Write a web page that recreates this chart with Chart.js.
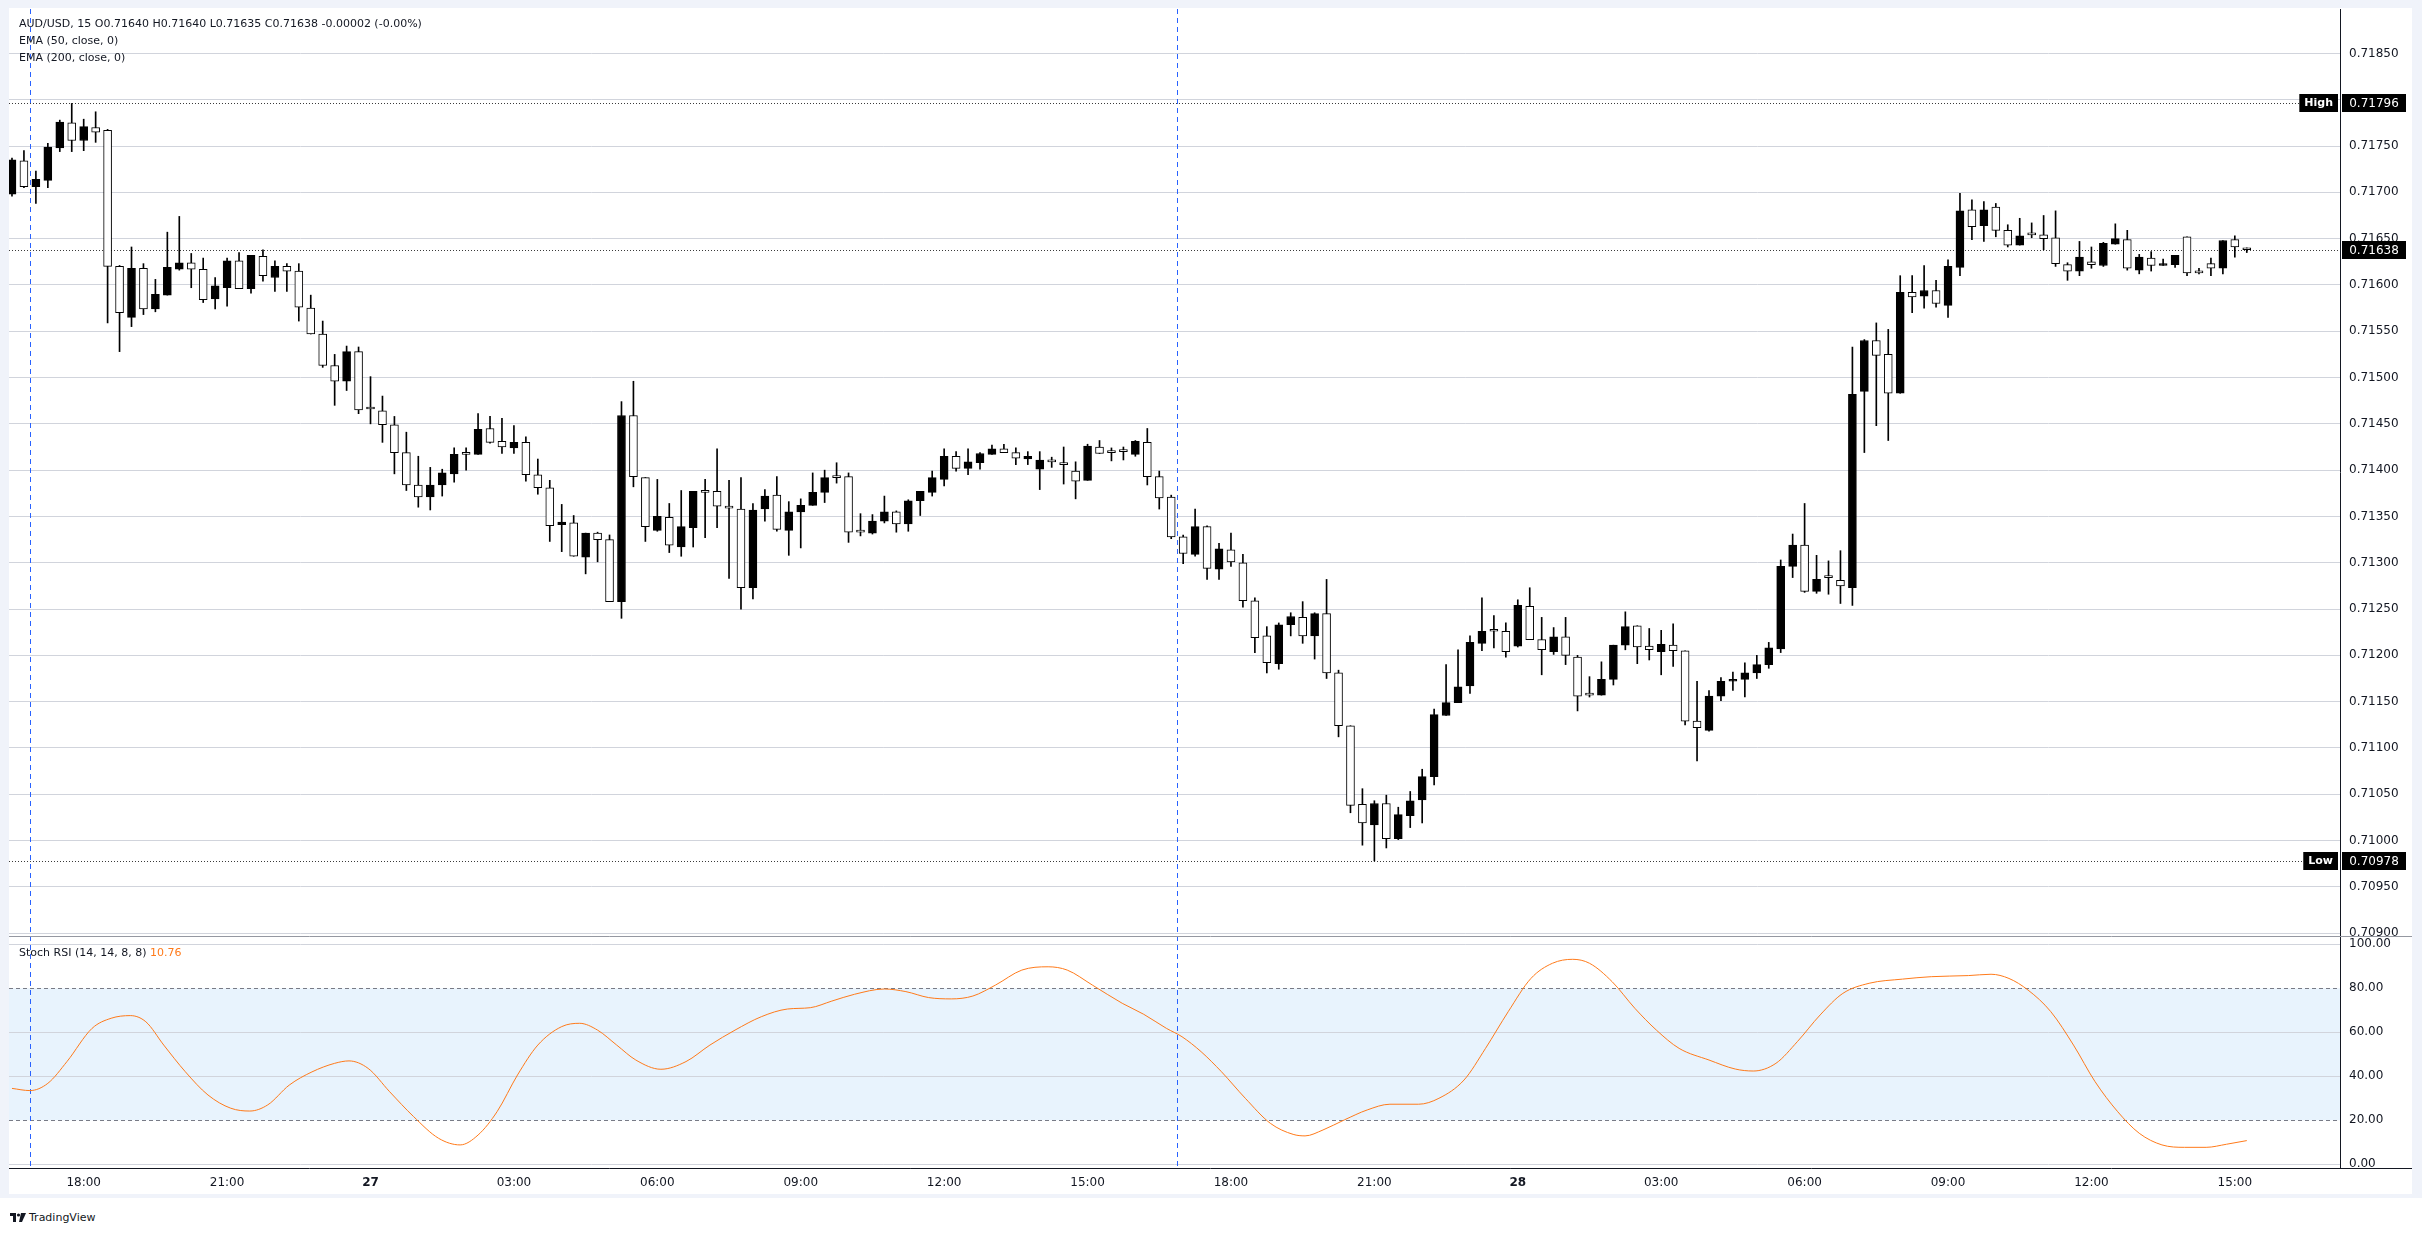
<!DOCTYPE html>
<html>
<head>
<meta charset="utf-8">
<title>AUD/USD, 15</title>
<script src="https://cdn.jsdelivr.net/npm/chart.js@4.4.1/dist/chart.umd.min.js"></script>
<style>
  html, body { margin: 0; padding: 0; background: #fff; }
  body { width: 2422px; height: 1235px; position: relative; overflow: hidden; font-family: "DejaVu Sans", sans-serif; color: #131722; }
  #frame { position: absolute; left: 0; top: 0; width: 2422px; height: 1198px; background: #f0f3fa; }
  #pane { position: absolute; left: 9px; top: 8px; width: 2403px; height: 1186px; background: #fff; }
  canvas { position: absolute; left: 0; }
  #main { top: 0; }
  #osc { top: 936px; }
  .legend { position: absolute; left: 19px; font-size: 11px; line-height: 14px; white-space: pre; color: #131722; }
  #logo { position: absolute; left: 10px; top: 1211px; font-size: 11px; line-height: 13px; color: #131722; display: flex; align-items: center; gap: 3px; }
</style>
</head>
<body>
<div id="frame"></div>
<div id="pane"></div>
<canvas id="main" width="2422" height="936" style="width:2422px;height:936px"></canvas>
<canvas id="osc" width="2422" height="264" style="width:2422px;height:264px"></canvas>
<div class="legend" style="top:17px">AUD/USD, 15 O0.71640 H0.71640 L0.71635 C0.71638 -0.00002 (-0.00%)</div>
<div class="legend" style="top:34px">EMA (50, close, 0)</div>
<div class="legend" style="top:51px">EMA (200, close, 0)</div>
<div class="legend" style="top:946px">Stoch RSI (14, 14, 8, 8) <span style="color:#ff7a1a">10.76</span></div>
<div id="logo"><svg width="16" height="11" viewBox="0 0 16 11"><rect x="0" y="1" width="6" height="3" fill="#131722"/><rect x="3" y="1" width="3" height="9" fill="#131722"/><circle cx="8.5" cy="3" r="1.6" fill="#131722"/><path d="M11 1 L16 1 L12 10 L9 10 Z" fill="#131722"/></svg><span>TradingView</span></div>

<script>
// 15-minute candles, 26th 16:30 -> 28th 15:15 (index 0..187)
const opens = [
  0.71698,0.71734,0.71706,0.71713,0.71748,0.71775,0.71756,0.71770,0.71767,0.71620,
  0.71565,0.71618,0.71574,0.71589,0.71617,0.71624,0.71617,0.71585,0.71597,0.71626,
  0.71596,0.71631,0.71608,0.71620,0.71615,0.71575,0.71547,0.71513,0.71496,0.71528,
  0.71466,0.71464,0.71449,0.71419,0.71384,0.71371,0.71384,0.71396,0.71417,0.71417,
  0.71445,0.71431,0.71424,0.71430,0.71395,0.71381,0.71341,0.71343,0.71306,0.71332,
  0.71325,0.71258,0.71459,0.71392,0.71335,0.71349,0.71317,0.71338,0.71378,0.71377,
  0.71361,0.71358,0.71273,0.71358,0.71373,0.71335,0.71355,0.71362,0.71376,0.71392,
  0.71393,0.71333,0.71332,0.71345,0.71355,0.71342,0.71367,0.71376,0.71390,0.71415,
  0.71402,0.71408,0.71417,0.71423,0.71419,0.71412,0.71401,0.71409,0.71406,0.71399,
  0.71389,0.71425,0.71419,0.71420,0.71417,0.71430,0.71393,0.71371,0.71328,0.71309,
  0.71339,0.71293,0.71314,0.71300,0.71259,0.71221,0.71191,0.71233,0.71241,0.71221,
  0.71245,0.71181,0.71124,0.71039,0.71017,0.71040,0.71002,0.71027,0.71044,0.71069,
  0.71135,0.71149,0.71167,0.71213,0.71226,0.71226,0.71210,0.71253,0.71217,0.71204,
  0.71220,0.71198,0.71157,0.71157,0.71174,0.71211,0.71232,0.71210,0.71204,0.71211,
  0.71205,0.71129,0.71119,0.71156,0.71172,0.71174,0.71181,0.71190,0.71207,0.71296,
  0.71319,0.71269,0.71284,0.71281,0.71273,0.71485,0.71540,0.71525,0.71483,0.71592,
  0.71588,0.71594,0.71578,0.71619,0.71681,0.71664,0.71684,0.71659,0.71643,0.71654,
  0.71654,0.71651,0.71622,0.71615,0.71625,0.71621,0.71644,0.71649,0.71616,0.71629,
  0.71621,0.71622,0.71652,0.71613,0.71623,0.71618,0.71649,0.71640
];
const highs = [
  0.71737,0.71745,0.71723,0.71753,0.71778,0.71796,0.71779,0.71787,0.71768,0.71621,
  0.71641,0.71623,0.71606,0.71657,0.71674,0.71634,0.71629,0.71608,0.71629,0.71635,
  0.71632,0.71638,0.71626,0.71623,0.71623,0.71589,0.71561,0.71525,0.71534,0.71533,
  0.71501,0.71480,0.71458,0.71441,0.71415,0.71403,0.71401,0.71424,0.71424,0.71461,
  0.71458,0.71456,0.71448,0.71436,0.71412,0.71389,0.71363,0.71351,0.71332,0.71333,
  0.71330,0.71474,0.71496,0.71392,0.71390,0.71364,0.71378,0.71377,0.71390,0.71423,
  0.71389,0.71392,0.71364,0.71379,0.71393,0.71366,0.71369,0.71397,0.71400,0.71408,
  0.71397,0.71353,0.71352,0.71372,0.71356,0.71368,0.71377,0.71399,0.71423,0.71420,
  0.71423,0.71419,0.71427,0.71428,0.71424,0.71420,0.71420,0.71414,0.71425,0.71409,
  0.71428,0.71432,0.71424,0.71425,0.71432,0.71445,0.71399,0.71373,0.71330,0.71358,
  0.71340,0.71321,0.71332,0.71309,0.71262,0.71231,0.71235,0.71246,0.71258,0.71246,
  0.71282,0.71184,0.71124,0.71056,0.71043,0.71049,0.71036,0.71053,0.71077,0.71142,
  0.71190,0.71206,0.71221,0.71262,0.71243,0.71235,0.71260,0.71273,0.71241,0.71230,
  0.71241,0.71200,0.71177,0.71193,0.71211,0.71247,0.71232,0.71229,0.71227,0.71234,
  0.71205,0.71172,0.71162,0.71176,0.71182,0.71192,0.71200,0.71214,0.71303,0.71331,
  0.71364,0.71308,0.71302,0.71313,0.71533,0.71541,0.71559,0.71552,0.71610,0.71610,
  0.71621,0.71605,0.71627,0.71699,0.71692,0.71690,0.71688,0.71665,0.71672,0.71667,
  0.71675,0.71680,0.71624,0.71647,0.71641,0.71646,0.71666,0.71659,0.71633,0.71636,
  0.71628,0.71632,0.71652,0.71618,0.71629,0.71648,0.71653,0.71640
];
const lows = [
  0.71696,0.71705,0.71688,0.71705,0.71744,0.71744,0.71745,0.71754,0.71559,0.71528,
  0.71555,0.71568,0.71571,0.71589,0.71616,0.71597,0.71581,0.71574,0.71577,0.71596,
  0.71591,0.71604,0.71593,0.71593,0.71561,0.71547,0.71511,0.71470,0.71486,0.71461,
  0.71450,0.71430,0.71396,0.71378,0.71360,0.71357,0.71372,0.71387,0.71400,0.71417,
  0.71429,0.71418,0.71418,0.71388,0.71374,0.71323,0.71312,0.71307,0.71288,0.71301,
  0.71258,0.71240,0.71382,0.71323,0.71334,0.71311,0.71307,0.71317,0.71327,0.71338,
  0.71283,0.71250,0.71261,0.71345,0.71334,0.71308,0.71316,0.71362,0.71365,0.71386,
  0.71322,0.71329,0.71331,0.71343,0.71333,0.71334,0.71351,0.71372,0.71383,0.71399,
  0.71395,0.71401,0.71417,0.71419,0.71406,0.71406,0.71379,0.71403,0.71385,0.71369,
  0.71389,0.71418,0.71410,0.71411,0.71415,0.71384,0.71358,0.71326,0.71299,0.71307,
  0.71282,0.71282,0.71296,0.71252,0.71203,0.71181,0.71185,0.71221,0.71213,0.71196,
  0.71175,0.71112,0.71030,0.70995,0.70978,0.70992,0.71001,0.71014,0.71019,0.71060,
  0.71135,0.71149,0.71159,0.71205,0.71208,0.71198,0.71209,0.71217,0.71179,0.71201,
  0.71190,0.71140,0.71155,0.71157,0.71168,0.71206,0.71191,0.71195,0.71179,0.71188,
  0.71125,0.71086,0.71118,0.71151,0.71162,0.71155,0.71175,0.71186,0.71203,0.71284,
  0.71268,0.71267,0.71266,0.71256,0.71254,0.71419,0.71448,0.71432,0.71483,0.71570,
  0.71575,0.71576,0.71565,0.71610,0.71649,0.71647,0.71652,0.71641,0.71643,0.71651,
  0.71638,0.71620,0.71605,0.71610,0.71618,0.71620,0.71644,0.71616,0.71612,0.71615,
  0.71621,0.71619,0.71610,0.71612,0.71610,0.71612,0.71630,0.71635
];
const closes = [
  0.71735,0.71706,0.71714,0.71749,0.71776,0.71756,0.71771,0.71765,0.71620,0.71570,
  0.71618,0.71574,0.71590,0.71619,0.71624,0.71617,0.71584,0.71599,0.71626,0.71596,
  0.71632,0.71610,0.71620,0.71615,0.71576,0.71547,0.71513,0.71496,0.71528,0.71465,
  0.71466,0.71449,0.71419,0.71384,0.71371,0.71384,0.71397,0.71417,0.71417,0.71444,
  0.71430,0.71425,0.71430,0.71395,0.71381,0.71340,0.71344,0.71307,0.71332,0.71325,
  0.71258,0.71459,0.71393,0.71339,0.71350,0.71319,0.71339,0.71377,0.71376,0.71361,
  0.71359,0.71273,0.71357,0.71372,0.71336,0.71355,0.71362,0.71376,0.71392,0.71392,
  0.71333,0.71333,0.71345,0.71355,0.71342,0.71367,0.71377,0.71392,0.71415,0.71402,
  0.71409,0.71418,0.71423,0.71419,0.71413,0.71415,0.71411,0.71409,0.71406,0.71388,
  0.71426,0.71418,0.71419,0.71420,0.71431,0.71393,0.71370,0.71328,0.71310,0.71339,
  0.71294,0.71315,0.71301,0.71259,0.71219,0.71192,0.71233,0.71242,0.71221,0.71245,
  0.71181,0.71124,0.71038,0.71019,0.71040,0.71002,0.71028,0.71043,0.71069,0.71136,
  0.71149,0.71166,0.71214,0.71226,0.71226,0.71204,0.71254,0.71217,0.71206,0.71220,
  0.71200,0.71156,0.71157,0.71174,0.71211,0.71231,0.71209,0.71206,0.71212,0.71205,
  0.71129,0.71122,0.71156,0.71172,0.71174,0.71181,0.71190,0.71208,0.71296,0.71319,
  0.71269,0.71282,0.71284,0.71275,0.71482,0.71540,0.71524,0.71483,0.71592,0.71587,
  0.71594,0.71580,0.71620,0.71680,0.71663,0.71681,0.71659,0.71643,0.71653,0.71654,
  0.71650,0.71623,0.71615,0.71630,0.71622,0.71645,0.71650,0.71618,0.71630,0.71621,
  0.71623,0.71632,0.71613,0.71613,0.71618,0.71648,0.71641,0.71638
];

// Stoch RSI %K, read at candle positions
const rsiX = [0,1.5,3,4.6,6.7,8.3,9.9,11.2,12.7,14.5,16.4,18.3,19.9,21.4,23.2,25.1,27,28.2,29.8,31.6,
  33.6,35.7,37.5,39,40.6,42.3,44,46,47.5,49,50.6,52.2,54.3,56.4,58.4,60.5,62.7,64.9,66.8,68.6,
  70.5,73,74.8,76.7,78.6,80.4,82.3,84.5,86.7,88.3,90.4,92.9,94.7,96.6,97.9,99.5,101.2,103.2,105.3,107.2,
  108.2,109.7,111.5,113.4,115.3,117.7,119.4,121.5,123.3,125.2,127.1,128.9,130.6,132,133.9,135.8,137.6,139.5,142,144.2,
  145.7,147.6,149.4,151.3,153.2,155.4,158.2,160.6,163.7,165.6,167.1,168.7,170.6,172.5,174.3,176.2,178,179.9,181.8,183.6,
  185.3,187];
const rsiK = [34.5,33.5,36.8,46.7,61.8,66.4,67.6,64.8,54.2,42.1,31.5,25.5,24.2,27,36,42,45.9,47,43.6,33,
  21.7,11.8,8.8,13.3,24,40.6,54.2,62.6,64.1,61,54.2,47.4,43.2,46.7,54.2,61,67.1,70.6,71.2,74.2,
  77.3,79.7,78.5,75.8,75.2,76.5,81.5,88.3,89.8,88.3,81.5,73.2,68.2,61.8,58,51.2,42.1,30,18.6,13.6,
  12.9,15.6,20.2,24.7,27.3,27.3,30,38.3,52.7,69.4,84.5,91.4,93.2,91.4,83,70.9,61,52.7,47.4,43.3,
  42.4,45.9,55.8,67.9,77.7,82.3,84.2,85.3,85.8,86.4,84.5,79.2,69.4,54.2,37.6,23.9,14.1,8.8,7.7,7.7,
  9.1,10.76];

const priceTicks = [0.70900,0.70950,0.71000,0.71050,0.71100,0.71150,0.71200,0.71250,0.71300,0.71350,
  0.71400,0.71450,0.71500,0.71550,0.71600,0.71650,0.71700,0.71750,0.71800,0.71850];
const rsiTicks = [0, 20, 40, 60, 80, 100];
const timeTickIdx = [6, 18, 30, 42, 54, 66, 78, 90, 102, 114, 126, 138, 150, 162, 174, 186];
const timeTickLabels = ['18:00','21:00','27','03:00','06:00','09:00','12:00','15:00',
  '18:00','21:00','28','03:00','06:00','09:00','12:00','15:00'];
const sessionBreaks = [1.5, 97.5];
const highPrice = 0.71796, lastPrice = 0.71638, lowPrice = 0.70978;

const FONT = 'DejaVu Sans';
const X_MIN = -0.25, X_MAX = 194.8;
const AXIS_W = 82;

function drawSessionBreaks(chart) {
  const { ctx, chartArea: a, scales: { x } } = chart;
  ctx.save();
  ctx.strokeStyle = '#2962ff';
  ctx.lineWidth = 1;
  ctx.setLineDash([5, 4]);
  sessionBreaks.forEach(b => {
    const px = Math.round(x.getPixelForValue(b)) + 0.5;
    ctx.beginPath();
    ctx.moveTo(px, a.top);
    ctx.lineTo(px, a.bottom);
    ctx.stroke();
  });
  ctx.restore();
}

function tag(ctx, text, left, width, yc) {
  ctx.fillStyle = '#000';
  ctx.fillRect(left, Math.round(yc) - 9, width, 18);
  ctx.fillStyle = '#fff';
  ctx.textAlign = 'center';
  ctx.textBaseline = 'middle';
  ctx.fillText(text, left + width / 2, Math.round(yc) + 0.5);
}

const mainOverlay = {
  id: 'mainOverlay',
  beforeDatasetsDraw(chart) {
    const { ctx, chartArea: a, scales: { y } } = chart;
    drawSessionBreaks(chart);
    ctx.save();
    ctx.strokeStyle = '#3a3a3a';
    ctx.lineWidth = 1;
    ctx.setLineDash([1, 2]);
    [highPrice, lastPrice, lowPrice].forEach(p => {
      const py = Math.round(y.getPixelForValue(p)) + 0.5;
      ctx.beginPath();
      ctx.moveTo(a.left, py);
      ctx.lineTo(a.right, py);
      ctx.stroke();
    });
    ctx.restore();
  },
  afterDraw(chart) {
    const { ctx, chartArea: a, scales: { y } } = chart;
    ctx.save();
    ctx.font = '12px ' + FONT;
    const boxL = a.right + 2;
    tag(ctx, highPrice.toFixed(5), boxL, 64, y.getPixelForValue(highPrice));
    tag(ctx, lastPrice.toFixed(5), boxL, 64, y.getPixelForValue(lastPrice));
    tag(ctx, lowPrice.toFixed(5), boxL, 64, y.getPixelForValue(lowPrice));
    ctx.font = 'bold 11px ' + FONT;
    const wH = ctx.measureText('High').width + 10;
    const wL = ctx.measureText('Low').width + 10;
    tag(ctx, 'High', a.right - 2 - wH, wH, y.getPixelForValue(highPrice));
    tag(ctx, 'Low', a.right - 2 - wL, wL, y.getPixelForValue(lowPrice));
    ctx.restore();
  }
};

const oscOverlay = {
  id: 'oscOverlay',
  beforeDraw(chart) {
    const { ctx, chartArea: a, scales: { y } } = chart;
    const top = y.getPixelForValue(80), bot = y.getPixelForValue(20);
    ctx.save();
    ctx.fillStyle = '#e8f3fd';
    ctx.fillRect(a.left, top, a.right - a.left, bot - top);
    ctx.restore();
  },
  beforeDatasetsDraw(chart) {
    const { ctx, chartArea: a, scales: { y } } = chart;
    ctx.save();
    ctx.strokeStyle = '#787b86';
    ctx.lineWidth = 1;
    ctx.setLineDash([4, 3]);
    [80, 20].forEach(v => {
      const py = Math.round(y.getPixelForValue(v)) + 0.5;
      ctx.beginPath();
      ctx.moveTo(a.left, py);
      ctx.lineTo(a.right, py);
      ctx.stroke();
    });
    ctx.restore();
    drawSessionBreaks(chart);
  },
  afterDraw(chart) {
    const { ctx, chartArea: a, width } = chart;
    ctx.save();
    ctx.lineWidth = 1;
    ctx.strokeStyle = '#9598a1';
    ctx.beginPath();
    ctx.moveTo(a.left, 0.5);
    ctx.lineTo(width - 10, 0.5);
    ctx.stroke();
    ctx.strokeStyle = '#131722';
    ctx.beginPath();
    ctx.moveTo(a.left, Math.round(a.bottom) + 0.5);
    ctx.lineTo(width - 10, Math.round(a.bottom) + 0.5);
    ctx.stroke();
    ctx.restore();
  }
};

const idx = opens.map((_, i) => i);

new Chart(document.getElementById('main'), {
  type: 'bar',
  data: {
    datasets: [
      {
        label: 'wick',
        data: idx.map(i => ({ x: i, y: [lows[i], highs[i]] })),
        backgroundColor: '#000',
        barThickness: 1,
        grouped: false,
        order: 2
      },
      {
        label: 'body',
        data: idx.map(i => ({ x: i, y: [opens[i], closes[i]] })),
        backgroundColor: idx.map(i => closes[i] > opens[i] ? '#000' : '#fff'),
        borderColor: '#000',
        borderWidth: 1,
        borderSkipped: false,
        barThickness: 8,
        minBarLength: 2,
        grouped: false,
        order: 1
      }
    ]
  },
  options: {
    responsive: false,
    animation: false,
    events: [],
    layout: { padding: { left: 9, top: 9, right: 0, bottom: 1 } },
    plugins: { legend: { display: false }, tooltip: { enabled: false } },
    scales: {
      x: { type: 'linear', min: X_MIN, max: X_MAX, display: false, offset: false },
      y: {
        position: 'right',
        min: 0.70898,
        max: 0.71898,
        afterBuildTicks: s => { s.ticks = priceTicks.map(v => ({ value: v })); },
        afterFit: s => { s.width = AXIS_W; s.paddingTop = 0; s.paddingBottom = 0; },
        ticks: {
          callback: v => Number(v).toFixed(5),
          padding: 9,
          color: '#131722',
          font: { family: FONT, size: 12 }
        },
        grid: { color: '#d1d4dc', drawTicks: false },
        border: { display: true, color: '#131722' }
      }
    }
  },
  plugins: [mainOverlay]
});

new Chart(document.getElementById('osc'), {
  type: 'line',
  data: {
    datasets: [{
      label: 'Stoch RSI',
      data: rsiX.map((x, i) => ({ x: x, y: rsiK[i] })),
      borderColor: '#ff7a1a',
      borderWidth: 1,
      pointRadius: 0,
      cubicInterpolationMode: 'monotone',
      fill: false
    }]
  },
  options: {
    responsive: false,
    animation: false,
    events: [],
    layout: { padding: { left: 9, top: 0, right: 0, bottom: 0 } },
    plugins: { legend: { display: false }, tooltip: { enabled: false } },
    scales: {
      x: {
        type: 'linear', min: X_MIN, max: X_MAX, offset: false,
        afterBuildTicks: s => { s.ticks = timeTickIdx.map(v => ({ value: v })); },
        afterFit: s => { s.height = 32; s.paddingLeft = 0; s.paddingRight = 0; },
        ticks: {
          callback: (v, i) => timeTickLabels[i],
          autoSkip: false,
          maxRotation: 0,
          padding: 8,
          color: '#131722',
          font: c => ({ family: FONT, size: 12, weight: (c.tick && (c.tick.label === '27' || c.tick.label === '28')) ? 'bold' : 'normal' })
        },
        grid: { display: false, drawTicks: false },
        border: { display: false }
      },
      y: {
        position: 'right',
        min: -1.7,
        max: 103.8,
        afterBuildTicks: s => { s.ticks = rsiTicks.map(v => ({ value: v })); },
        afterFit: s => { s.width = AXIS_W; s.paddingTop = 0; s.paddingBottom = 0; },
        ticks: {
          callback: v => Number(v).toFixed(2),
          padding: 9,
          color: '#131722',
          font: { family: FONT, size: 12 }
        },
        grid: {
          color: c => (c.tick && (c.tick.value === 20 || c.tick.value === 80)) ? 'rgba(0,0,0,0)' : '#d1d4dc',
          drawTicks: false
        },
        border: { display: true, color: '#131722' }
      }
    }
  },
  plugins: [oscOverlay]
});
</script>
</body>
</html>
